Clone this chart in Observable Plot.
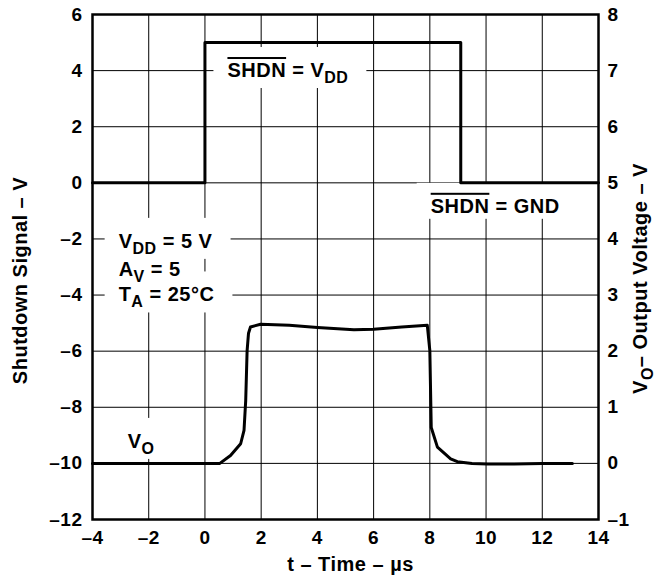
<!DOCTYPE html>
<html><head><meta charset="utf-8">
<script src="https://cdn.jsdelivr.net/npm/d3@7"></script>
<script src="https://cdn.jsdelivr.net/npm/@observablehq/plot@0.6"></script>
<style>body{margin:0;background:#fff}</style>
</head><body><div id="chart"></div>
<script>
// Shutdown signal (left axis, V)
const shdnT = [-4, 0, 0, 9.1, 9.1, 14];
const shdnV = [0, 0, 5, 5, 0, 0];
// Output voltage VO (right axis, V)
const voT = [-4, 0.53, 0.91, 1.27, 1.39, 1.45, 1.50, 1.55, 1.62, 1.98, 3.0, 4.0, 5.3, 6.0, 7.0, 7.91, 8.0, 8.05, 8.27, 8.74, 8.98, 9.5, 10.05, 11, 12, 13.07];
const voV = [0, 0, 0.14, 0.35, 0.59, 1.12, 2.01, 2.32, 2.43, 2.48, 2.46, 2.42, 2.38, 2.39, 2.43, 2.46, 2.01, 0.64, 0.29, 0.08, 0.03, 0.0, -0.01, -0.01, 0, 0];
// ticks
const xTicks = [-4, -2, 0, 2, 4, 6, 8, 10, 12, 14];
const leftTicks = [-12, -10, -8, -6, -4, -2, 0, 2, 4, 6];
const rightTicks = [-1, 0, 1, 2, 3, 4, 5, 6, 7, 8];
// annotations
const labelText = ["~SHDN~ = V_{DD}", "~SHDN~ = GND", "V_{DD} = 5 V", "A_{V} = 5", "T_{A} = 25°C", "V_{O}"];
const labelT = [0.8, 8.03, -3.07, -3.07, -3.07, -2.75];
const labelY = [4.0, -0.84, -2.09, -3.1, -4.0, -9.22];
const xTitle = "t – Time – µs";
const yTitle = "Shutdown Signal – V";
const y2Title = "V_{O}– Output Voltage – V";

const toLeft = v => 2 * v - 10; // right-axis volts -> left-axis units
const fmt = d => (d < 0 ? "–" + Math.abs(d) : String(d));

const shdn = shdnT.map((t, i) => ({t, v: shdnV[i]}));
const vo = voT.map((t, i) => ({t, v: toLeft(voV[i])}));

const FONT = "Liberation Sans, Arial, Helvetica, sans-serif";
const plot = Plot.plot({
  width: 657, height: 584,
  marginLeft: 92, marginRight: 59, marginTop: 14, marginBottom: 65,
  style: {fontFamily: FONT, fontWeight: "bold", fontSize: "19px", letterSpacing: "0.5px", color: "black", background: "white"},
  x: {domain: [-4, 14]},
  y: {domain: [-12, 6]},
  marks: [
    Plot.gridX(xTicks, {stroke: "black", strokeOpacity: 1, strokeWidth: 1}),
    Plot.gridY(leftTicks, {stroke: "black", strokeOpacity: 1, strokeWidth: 1}),
    Plot.line(shdn, {x: "t", y: "v", stroke: "black", strokeWidth: 3}),
    Plot.line(vo, {x: "t", y: "v", stroke: "black", strokeWidth: 3}),
    Plot.frame({stroke: "black", strokeWidth: 2.5}),
    Plot.axisX(xTicks, {anchor: "bottom", tickSize: 0, tickPadding: 11, tickFormat: fmt, label: null}),
    Plot.axisY(leftTicks, {anchor: "left", tickSize: 0, tickPadding: 10, tickFormat: fmt, label: null}),
    Plot.axisY(rightTicks.map(toLeft), {anchor: "right", tickSize: 0, tickPadding: 9, tickFormat: d => fmt((d + 10) / 2), label: null}),
    Plot.text(labelText, {x: labelT, y: labelY, text: d => d, textAnchor: "start", fontSize: 20, fill: "black"}),
    Plot.text([xTitle], {frameAnchor: "bottom", dy: 51, dx: 5, text: d => d, textAnchor: "middle", fontSize: 20, fill: "black"}),
    Plot.text([yTitle], {frameAnchor: "left", dx: -72, dy: 13.5, rotate: -90, text: d => d, textAnchor: "middle", fontSize: 20, fill: "black"}),
    Plot.text([y2Title], {frameAnchor: "right", dx: 42, dy: 11.5, rotate: -90, text: d => d, textAnchor: "middle", fontSize: 20, fill: "black"})
  ]
});
document.getElementById("chart").appendChild(plot);

const NS = "http://www.w3.org/2000/svg";
// collect annotation text elements before rich-text conversion
const annEls = [...plot.querySelectorAll("text")].filter(t => labelText.includes(t.textContent));

function rich(el) {
  const s = el.textContent;
  if (!/~|_\{/.test(s)) return;
  const base = parseFloat(getComputedStyle(el).fontSize) || 18;
  el.textContent = "";
  const re = /~([^~]*)~|_\{([^}]*)\}|([^~_]+)/g;
  let m, shifted = false;
  while ((m = re.exec(s))) {
    const t = document.createElementNS(NS, "tspan");
    if (m[1] != null) {
      t.textContent = m[1];
      t.setAttribute("text-decoration", "overline");
      t.style.textDecoration = "overline";
      if (shifted) { t.setAttribute("dy", -base * 0.3); shifted = false; }
    } else if (m[2] != null) {
      t.textContent = m[2];
      t.setAttribute("font-size", base * 0.8);
      t.setAttribute("dy", base * 0.3);
      shifted = true;
    } else {
      t.textContent = m[3];
      if (shifted) { t.setAttribute("dy", -base * 0.3); shifted = false; }
    }
    el.appendChild(t);
  }
}
plot.querySelectorAll("text").forEach(rich);

// white backgrounds behind annotations (gaps in grid lines)
const firstLine = plot.querySelector('g[aria-label="line"]');
const bg = document.createElementNS(NS, "g");
const svgM = plot.getScreenCTM();
annEls.forEach(tx => {
  const b = tx.getBBox();
  const m = svgM.inverse().multiply(tx.getScreenCTM());
  const r = document.createElementNS(NS, "rect");
  const x0 = b.x + m.e, y0 = b.y + m.f;
  r.setAttribute("x", x0 - 14);
  r.setAttribute("y", y0 - 12);
  r.setAttribute("width", b.width + 32);
  r.setAttribute("height", b.height + 14);
  r.setAttribute("fill", "white");
  bg.appendChild(r);
});
if (firstLine) firstLine.parentNode.insertBefore(bg, firstLine);
</script>
</body></html>
